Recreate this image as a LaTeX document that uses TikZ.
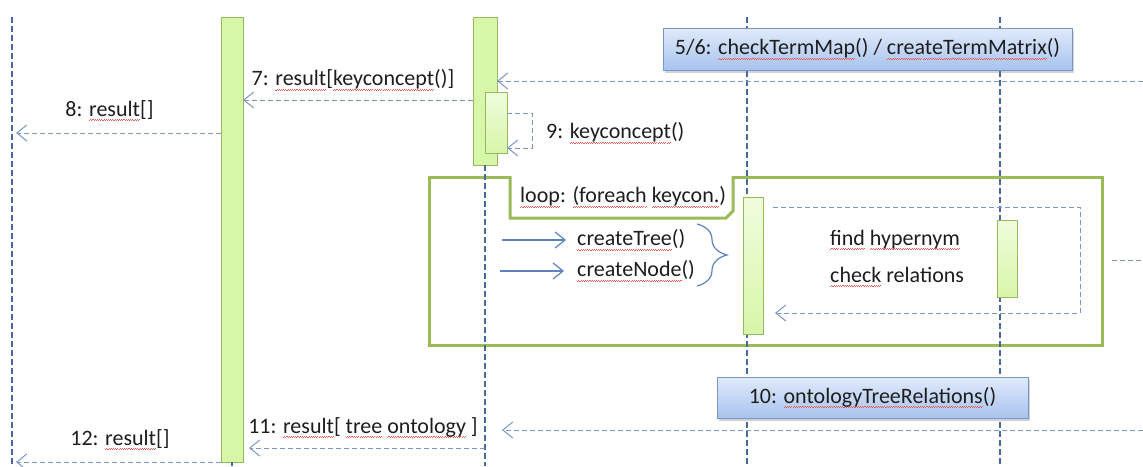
\documentclass[tikz,border=0pt]{standalone}
\usepackage{fontspec}
\setmainfont{Carlito}
\usetikzlibrary{arrows.meta,shadows,decorations.pathreplacing}

\definecolor{lifeblue}{RGB}{70,105,160}
\definecolor{msgblue}{RGB}{125,150,195}
\definecolor{solidblue}{RGB}{95,130,190}
\definecolor{loopgreen}{RGB}{155,187,89}
\definecolor{barfill}{RGB}{215,246,168}
\definecolor{barlight}{RGB}{240,252,222}
\definecolor{barline}{RGB}{150,185,95}
\definecolor{boxtop}{RGB}{224,234,250}
\definecolor{boxbot}{RGB}{168,195,238}
\definecolor{boxline}{RGB}{120,150,200}
\definecolor{squigred}{RGB}{230,90,90}
\definecolor{txt}{RGB}{30,30,30}

\newsavebox\sqbox
\newcommand\sq[1]{\sbox\sqbox{#1}\rlap{\color{squigred}\hbox to \wd\sqbox{\xleaders\hbox{\rule[-4.4pt]{1.1pt}{0.7pt}\rule[-3.4pt]{1.1pt}{0.7pt}}\hfill}}\usebox\sqbox}

\tikzset{
  lifeline/.style={draw=lifeblue, line width=1.3pt, dash pattern=on 6pt off 3pt},
  msg/.style={draw=msgblue, line width=1pt, dash pattern=on 5pt off 3pt},
  msgarrow/.style={msg, -{Straight Barb[length=10pt,width=16pt,line width=1pt]}},
  callarrow/.style={draw=solidblue, line width=1.2pt, -{Straight Barb[length=10pt,width=16pt,line width=1.2pt]}},
  bar/.style={draw=barline, fill=barfill, line width=1pt, inner sep=0pt, outer sep=0pt, anchor=north west},
  actbar/.style={bar, top color=barlight, bottom color=barfill},
  lbl/.style={font=\fontsize{22}{26}\selectfont, text=txt, inner sep=0pt},
  callbox/.style={draw=boxline, top color=boxtop, bottom color=boxbot, line width=1pt, inner sep=0pt,
    drop shadow={opacity=0.35, shadow xshift=2pt, shadow yshift=-3pt}},
  loopframe/.style={draw=loopgreen, line width=3pt},
  bracestyle/.style={draw=solidblue, line width=1.2pt, decorate, decoration={brace, amplitude=30pt, aspect=0.5}}
}

\begin{document}
\begin{tikzpicture}[x=1pt, y=-1pt]
\useasboundingbox (0,0) rectangle (1143,466);
\fill[white] (0,0) rectangle (1143,466);

% loop frame
\node[loopframe, anchor=north west, minimum width=673pt, minimum height=168pt, inner sep=0pt] (loop) at (428,176) {};

% lifelines
\coordinate (L0a) at (12,17);  \coordinate (L0b) at (12,466);
\coordinate (L3a) at (747,17); \coordinate (L3b) at (747,466);
\coordinate (L4a) at (1000,17); \coordinate (L4b) at (1000,466);
\draw[lifeline] (L0a) -- (L0b);
\draw[lifeline] (L3a) -- (L3b);
\draw[lifeline] (L4a) -- (L4b);

% activation bars
\node[bar, minimum width=22pt, minimum height=445pt] (bar1) at (221,17) {};
\node[bar, minimum width=24pt, minimum height=148pt] (bar2) at (473,17) {};
\coordinate (L1b) at (232,466);
\coordinate (L2b) at (485,466);
\draw[lifeline] (bar1.south) -- (L1b);
\draw[lifeline] (bar2.south) -- (L2b);
\node[actbar, minimum width=22pt, minimum height=61pt] (act2) at (485,92) {};
\node[actbar, minimum width=20pt, minimum height=137pt] (act3) at (743,197) {};
\node[actbar, minimum width=20pt, minimum height=77pt] (act4) at (997,220) {};

% call boxes
\node[callbox, minimum width=409pt, minimum height=42pt, lbl] (b56) at (867.5,49)
  {5/6: \sq{checkTermMap}() / \sq{createTermMatrix}()};
\node[callbox, minimum width=311pt, minimum height=41pt, lbl] (b10) at (872.5,397.5)
  {10: \sq{ontologyTreeRelations}()};

% return from right to bar2
\coordinate (R1) at (1143,81);
\draw[msgarrow] (R1) -- (R1 -| bar2.east);

% 7
\coordinate (y7) at (0,100);
\draw[msgarrow] (bar2.west |- y7) -- (bar1.east |- y7);
\node[lbl] (t7) at (353,80) {7: \sq{result}[\sq{keyconcept}()]};

% 8
\coordinate (e8) at (16,133);
\draw[msgarrow] (bar1.west |- e8) -- (e8);
\node[lbl] (t8) at (109.5,111) {8: \sq{result}[]};

% 9 self call
\coordinate (s9a) at (532,113);
\coordinate (s9b) at (532,148);
\draw[msgarrow] (act2.east |- s9a) -- (s9a) -- (s9b) -- (act2.east |- s9b);
\node[lbl, anchor=west] (t9) at (546,133) {9: \sq{keyconcept}()};

% loop tab
\coordinate (tabA) at (510,176);
\coordinate (tabB) at (733,176);
\filldraw[draw=loopgreen, line width=3pt, fill=white] (tabA) -- (510,218) -- (726,218) -- (733,211) -- (tabB);
\node[lbl, anchor=west] (tloop) at (520,197) {\sq{loop}: \sq{(foreach} \sq{keycon.})};

% createTree / createNode
\node[lbl, anchor=west] (tct) at (577,240) {\sq{createTree}()};
\node[lbl, anchor=west] (tcn) at (577,271) {\sq{createNode}()};
\coordinate (cta) at (502,240);
\coordinate (cna) at (500,271);
\draw[callarrow] (cta) -- ([xshift=-11pt]tct.west);
\draw[callarrow] (cna) -- ([xshift=-13pt]tcn.west);

% brace
\coordinate (brA) at (697,224);
\coordinate (brB) at (697,286);
\draw[bracestyle] (brA) -- (brB);

% inner dashed loop
\coordinate (d1) at (773,207);
\coordinate (d2) at (1080,207);
\coordinate (d3) at (1080,313);
\coordinate (d4) at (775,313);
\draw[msgarrow] (d1) -- (d2) -- (d3) -- (d4);
\node[lbl, anchor=west] (tfh) at (830,240) {\sq{find} \sq{hypernym}};
\node[lbl, anchor=west] (tcr) at (830,277) {\sq{check} relations};

% right stub
\coordinate (st1) at (1112,260);
\coordinate (st2) at (1143,260);
\draw[msg] (st1) -- (st2);

% return at 430
\coordinate (R2) at (1143,430);
\coordinate (R2e) at (502,430);
\draw[msgarrow] (R2) -- (R2e);

% 11
\coordinate (y11) at (0,448);
\draw[msgarrow] (bar2.center |- y11) -- ([xshift=6pt]bar1.east |- y11);
\node[lbl] (t11) at (363,428) {11: \sq{result}[ \sq{tree} \sq{ontology} ]};

% 12
\coordinate (e12) at (16,462);
\draw[msgarrow] (bar1.west |- e12) -- (e12);
\node[lbl] (t12) at (120,440) {12: \sq{result}[]};
\end{tikzpicture}
\end{document}
